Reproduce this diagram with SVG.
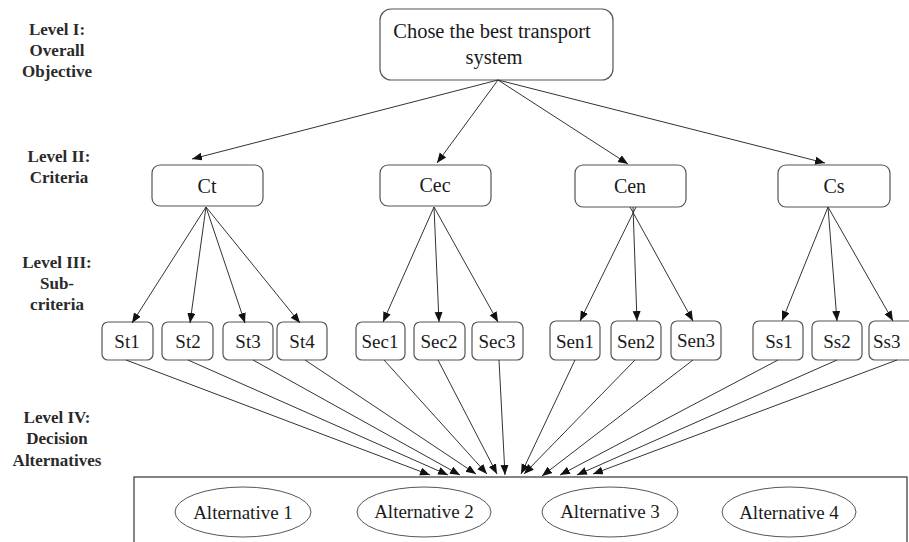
<svg xmlns="http://www.w3.org/2000/svg" width="909" height="542" viewBox="0 0 909 542">
<style>
text{font-family:'Liberation Serif','Times New Roman',Times,'DejaVu Serif',serif}
.lvl{font-weight:bold;font-size:17px;fill:#2a2a2a;text-anchor:middle}
.box{fill:#fff;stroke:#555;stroke-width:1.2}
.t{fill:#1a1a1a;text-anchor:middle}
.t20{font-size:20px}
.t19{font-size:19px}
.ln{stroke:#333;stroke-width:1;fill:none;marker-end:url(#ah)}
</style>
<defs>
<marker id="ah" markerUnits="userSpaceOnUse" markerWidth="11" markerHeight="9" refX="10" refY="4" orient="auto">
<path d="M0,0 L10,4 L0,8 z" fill="#111"/>
</marker>
</defs>
<rect width="909" height="542" fill="#fff"/>
<g id="levels" font-family="Liberation Serif, serif">
<text class="lvl" x="57" y="35">Level I:</text>
<text class="lvl" x="57" y="56">Overall</text>
<text class="lvl" x="57" y="77">Objective</text>
<text class="lvl" x="59" y="162">Level II:</text>
<text class="lvl" x="59" y="183">Criteria</text>
<text class="lvl" x="57" y="268">Level III:</text>
<text class="lvl" x="57" y="289">Sub-</text>
<text class="lvl" x="57" y="310">criteria</text>
<text class="lvl" x="57" y="423">Level IV:</text>
<text class="lvl" x="57" y="444">Decision</text>
<text class="lvl" x="57" y="466">Alternatives</text>
</g>
<g id="goal">
<rect class="box" x="380" y="9" width="233" height="71" rx="11"/>
<text class="t" x="492" y="38" style="font-size:20.5px">Chose the best transport</text>
<text class="t" x="494" y="64" style="font-size:20.5px">system</text>
</g>
<g id="Ct"><rect class="box" x="152" y="165" width="111" height="41" rx="8"/><text class="t t20" x="207" y="193">Ct</text></g>
<g id="Cec"><rect class="box" x="380" y="165" width="111" height="41" rx="8"/><text class="t t20" x="435" y="192">Cec</text></g>
<g id="Cen"><rect class="box" x="575" y="165" width="111" height="42" rx="8"/><text class="t t20" x="630" y="193">Cen</text></g>
<g id="Cs"><rect class="box" x="778" y="165" width="112" height="42" rx="8"/><text class="t t20" x="834" y="193">Cs</text></g>
<g id="St1"><rect class="box" x="102" y="322" width="51" height="38" rx="6"/><text class="t t19" x="127" y="348">St1</text></g>
<g id="St2"><rect class="box" x="162" y="322" width="51" height="38" rx="6"/><text class="t t19" x="188" y="348">St2</text></g>
<g id="St3"><rect class="box" x="223" y="322" width="50" height="38" rx="6"/><text class="t t19" x="248" y="348">St3</text></g>
<g id="St4"><rect class="box" x="277" y="322" width="50" height="38" rx="6"/><text class="t t19" x="302" y="348">St4</text></g>
<g id="Sec1"><rect class="box" x="356" y="322" width="49" height="38" rx="6"/><text class="t t19" x="380" y="348">Sec1</text></g>
<g id="Sec2"><rect class="box" x="414" y="322" width="51" height="38" rx="6"/><text class="t t19" x="439" y="348">Sec2</text></g>
<g id="Sec3"><rect class="box" x="472" y="322" width="51" height="38" rx="6"/><text class="t t19" x="497" y="348">Sec3</text></g>
<g id="Sen1"><rect class="box" x="550" y="321" width="50" height="39" rx="6"/><text class="t t19" x="575" y="348">Sen1</text></g>
<g id="Sen2"><rect class="box" x="611" y="321" width="50" height="39" rx="6"/><text class="t t19" x="636" y="348">Sen2</text></g>
<g id="Sen3"><rect class="box" x="671" y="321" width="50" height="39" rx="6"/><text class="t t19" x="696" y="347">Sen3</text></g>
<g id="Ss1"><rect class="box" x="753" y="321" width="50" height="39" rx="6"/><text class="t t19" x="779" y="348">Ss1</text></g>
<g id="Ss2"><rect class="box" x="812" y="321" width="50" height="39" rx="6"/><text class="t t19" x="837" y="348">Ss2</text></g>
<g id="Ss3"><rect class="box" x="869" y="321" width="50" height="39" rx="6"/><text class="t t19" x="873" y="348" style="text-anchor:start">Ss3</text></g>
<g id="alternatives">
<rect x="134" y="477" width="773" height="80" fill="none" stroke="#444" stroke-width="1.3"/>
<g id="Alt1"><ellipse cx="243" cy="512" rx="68" ry="25" fill="#fff" stroke="#555" stroke-width="1"/><text class="t t19" x="243" y="519">Alternative 1</text></g>
<g id="Alt2"><ellipse cx="424" cy="512" rx="67" ry="25" fill="#fff" stroke="#555" stroke-width="1"/><text class="t t19" x="424" y="518">Alternative 2</text></g>
<g id="Alt3"><ellipse cx="610" cy="512" rx="68" ry="25" fill="#fff" stroke="#555" stroke-width="1"/><text class="t t19" x="610" y="518">Alternative 3</text></g>
<g id="Alt4"><ellipse cx="789" cy="512" rx="67" ry="25" fill="#fff" stroke="#555" stroke-width="1"/><text class="t t19" x="789" y="519">Alternative 4</text></g>
</g>
<g id="connectors">
<line class="ln" x1="498" y1="80" x2="192" y2="159"/>
<line class="ln" x1="498" y1="80" x2="437" y2="163"/>
<line class="ln" x1="498" y1="80" x2="628" y2="164"/>
<line class="ln" x1="498" y1="80" x2="825" y2="163"/>
<line class="ln" x1="206" y1="207" x2="132" y2="323"/>
<line class="ln" x1="206" y1="207" x2="190" y2="323"/>
<line class="ln" x1="206" y1="207" x2="245" y2="323"/>
<line class="ln" x1="206" y1="207" x2="300" y2="323"/>
<line class="ln" x1="434" y1="207" x2="383" y2="322"/>
<line class="ln" x1="434" y1="207" x2="439" y2="322"/>
<line class="ln" x1="434" y1="207" x2="498" y2="322"/>
<line class="ln" x1="636" y1="207" x2="580" y2="321"/>
<line class="ln" x1="633" y1="207" x2="637" y2="321"/>
<line class="ln" x1="630" y1="207" x2="693" y2="321"/>
<line class="ln" x1="828" y1="207" x2="782" y2="321"/>
<line class="ln" x1="828" y1="207" x2="837" y2="321"/>
<line class="ln" x1="828" y1="207" x2="893" y2="321"/>
<line class="ln" x1="126" y1="360" x2="430" y2="475"/>
<line class="ln" x1="188" y1="360" x2="448" y2="475"/>
<line class="ln" x1="253" y1="360" x2="460" y2="475"/>
<line class="ln" x1="305" y1="360" x2="476" y2="474"/>
<line class="ln" x1="384" y1="360" x2="487" y2="474"/>
<line class="ln" x1="438" y1="360" x2="497" y2="474"/>
<line class="ln" x1="499" y1="360" x2="505" y2="475"/>
<line class="ln" x1="575" y1="360" x2="521" y2="474"/>
<line class="ln" x1="635" y1="360" x2="524" y2="474"/>
<line class="ln" x1="693" y1="360" x2="542" y2="476"/>
<line class="ln" x1="778" y1="360" x2="560" y2="475"/>
<line class="ln" x1="837" y1="360" x2="577" y2="475"/>
<line class="ln" x1="897" y1="360" x2="593" y2="474"/>
</g>
</svg>
